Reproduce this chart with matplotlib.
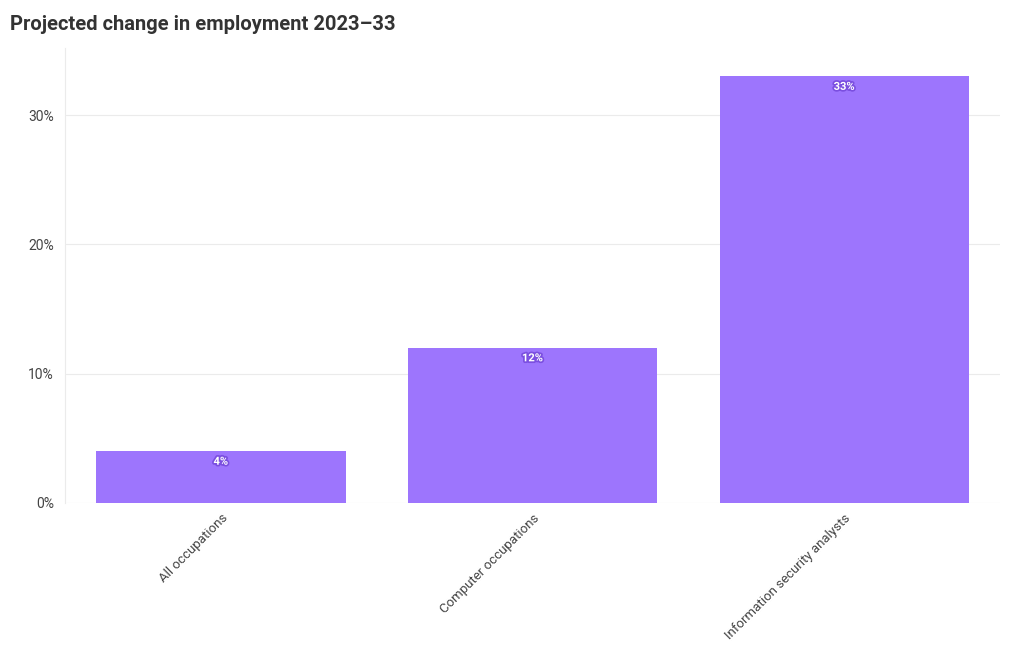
import matplotlib
matplotlib.use("Agg")
import matplotlib.pyplot as plt
import matplotlib.patheffects as pe
from matplotlib.ticker import FuncFormatter

categories = ["All occupations", "Computer occupations", "Information security analysts"]
values = [4, 12, 33]

BAR_COLOR = "#9d75fd"
TEXT_COLOR = "#333333"
TICK_COLOR = "#444444"
GRID_COLOR = "#ebebeb"

plt.rcParams["font.family"] = ["Roboto", "DejaVu Sans"]

fig = plt.figure(figsize=(10.2, 6.5), dpi=100)
ax = fig.add_axes([65 / 1020, 1 - 503 / 650, 935 / 1020, 455 / 650])

x = range(len(categories))
ax.bar(x, values, width=0.8, color=BAR_COLOR, zorder=2)

for xi, v in zip(x, values):
    ax.annotate(
        f"{v}%", (xi, v), xytext=(0, -7.5), textcoords="offset points",
        ha="center", va="center", fontsize=8, fontweight="bold", color="white",
        path_effects=[pe.withStroke(linewidth=2.5, foreground="#7b4fe0")], zorder=3,
    )

ax.set_xlim(-0.5, 2.5)
ax.set_ylim(0, 35.2)
ax.set_yticks([0, 10, 20, 30])
ax.yaxis.set_major_formatter(FuncFormatter(lambda v, _: f"{v:.0f}%"))
ax.set_xticks(list(x))
ax.set_xticklabels(categories, rotation=45, ha="right", rotation_mode="anchor")
ax.tick_params(axis="both", length=0, colors=TICK_COLOR, labelsize=10, pad=6)
ax.tick_params(axis="x", labelsize=9.5)
ax.tick_params(axis="y", pad=8)

ax.grid(axis="y", color=GRID_COLOR, linewidth=0.8, zorder=0)
for side in ["top", "right", "bottom"]:
    ax.spines[side].set_visible(False)
ax.spines["left"].set_color(GRID_COLOR)
ax.spines["left"].set_linewidth(0.8)

fig.text(10 / 1020, 1 - 25 / 650, "Projected change in employment 2023\u201333",
         fontsize=14.5, fontweight="bold", color=TEXT_COLOR, ha="left", va="center")

fig.savefig("out.png", dpi=100)
